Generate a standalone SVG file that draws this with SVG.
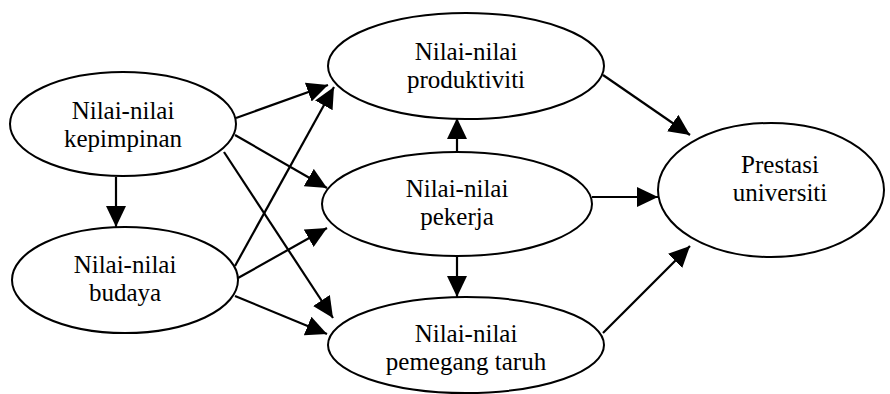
<svg xmlns="http://www.w3.org/2000/svg" width="890" height="394" viewBox="0 0 890 394">
<style>
.n{fill:#fff;stroke:#000;stroke-width:2}
.t{font-family:"Liberation Serif","Times New Roman",serif;font-size:25px;fill:#000;text-anchor:middle}
.e{stroke:#000;stroke-width:2.2;fill:none;marker-end:url(#ah)}
</style>
<defs>
<marker id="ah" markerUnits="userSpaceOnUse" markerWidth="22" markerHeight="20" refX="21" refY="10" orient="auto">
<path d="M0,0 L21,10 L0,20 z" fill="#000"/>
</marker>
</defs>
<rect width="890" height="394" fill="#fff"/>
<g id="edges">
<line class="e" x1="236" y1="118" x2="328" y2="85"/>
<line class="e" x1="235" y1="135" x2="327" y2="188"/>
<line class="e" x1="224" y1="152" x2="333" y2="318"/>
<line class="e" x1="116" y1="177" x2="116" y2="227"/>
<line class="e" x1="235" y1="266" x2="334" y2="87"/>
<line class="e" x1="238" y1="278" x2="327" y2="228"/>
<line class="e" x1="235" y1="296" x2="327" y2="334"/>
<line class="e" x1="457" y1="152" x2="457" y2="118"/>
<line class="e" x1="457" y1="256" x2="457" y2="297"/>
<line class="e" x1="592" y1="197" x2="658" y2="197"/>
<line class="e" x1="603" y1="75" x2="690" y2="135"/>
<line class="e" x1="603" y1="333" x2="690" y2="246"/>
</g>
<g id="kepimpinan">
<ellipse class="n" cx="123" cy="124" rx="113" ry="52"/>
<text class="t" x="123" y="119">Nilai-nilai</text>
<text class="t" x="123" y="147">kepimpinan</text>
</g>
<g id="budaya">
<ellipse class="n" cx="125" cy="280" rx="113" ry="53"/>
<text class="t" x="125" y="273">Nilai-nilai</text>
<text class="t" x="125" y="301">budaya</text>
</g>
<g id="produktiviti">
<ellipse class="n" cx="466" cy="66" rx="138" ry="53"/>
<text class="t" x="466" y="60">Nilai-nilai</text>
<text class="t" x="466" y="88">produktiviti</text>
</g>
<g id="pekerja">
<ellipse class="n" cx="457" cy="204" rx="135" ry="52"/>
<text class="t" x="457" y="197">Nilai-nilai</text>
<text class="t" x="457" y="225">pekerja</text>
</g>
<g id="pemegang">
<ellipse class="n" cx="466" cy="345" rx="138" ry="48"/>
<text class="t" x="466" y="342">Nilai-nilai</text>
<text class="t" x="466" y="370">pemegang taruh</text>
</g>
<g id="prestasi">
<ellipse class="n" cx="771" cy="190" rx="113" ry="67"/>
<text class="t" x="780" y="173">Prestasi</text>
<text class="t" x="780" y="201">universiti</text>
</g>
</svg>
